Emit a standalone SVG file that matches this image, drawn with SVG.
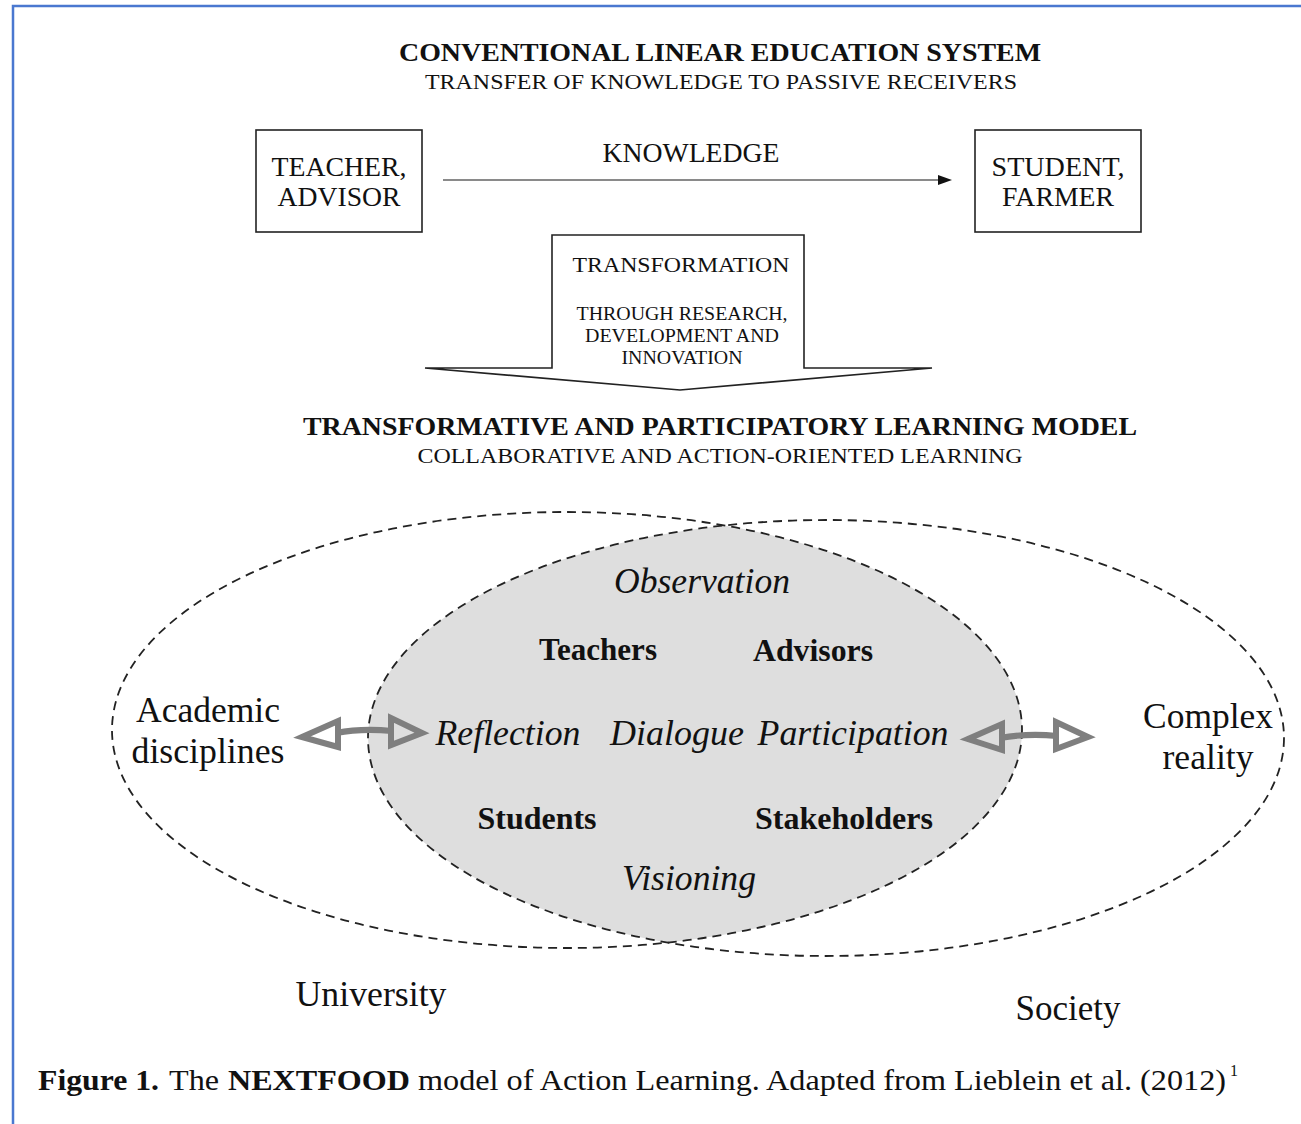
<svg xmlns="http://www.w3.org/2000/svg" width="1301" height="1124" viewBox="0 0 1301 1124">
  <style>
    .serif { font-family: "Liberation Serif", "Times New Roman", serif; fill: #111; }
    .box { fill: #fff; stroke: #222; stroke-width: 1.6; }
    .ell { fill: none; stroke: #222; stroke-width: 1.8; stroke-dasharray: 9 6; }
    .dbl { fill: none; stroke: #7f7f7f; stroke-width: 6; stroke-linejoin: miter; stroke-linecap: butt; }
    .b { font-weight: bold; }
    .i { font-style: italic; }
  </style>
  <defs>
    <marker id="tip" viewBox="0 0 14 10" refX="0" refY="5" markerWidth="14" markerHeight="10" markerUnits="userSpaceOnUse" orient="auto">
      <path d="M0,0 L14,5 L0,10 Z" fill="#111"/>
    </marker>
    <clipPath id="uniClip">
      <ellipse cx="567" cy="730" rx="455" ry="218"/>
    </clipPath>
  </defs>

  <rect width="1301" height="1124" fill="#fff"/>
  <!-- page frame -->
  <path d="M13,1124 L13,6 L1301,6" fill="none" stroke="#4a78d0" stroke-width="2.5"/>

  <!-- headings -->
  <g id="heading-top" class="serif">
    <text x="720" y="61" text-anchor="middle" font-size="26" class="b" textLength="642" lengthAdjust="spacingAndGlyphs">CONVENTIONAL LINEAR EDUCATION SYSTEM</text>
    <text x="721" y="89" text-anchor="middle" font-size="22" textLength="592" lengthAdjust="spacingAndGlyphs">TRANSFER OF KNOWLEDGE TO PASSIVE RECEIVERS</text>
  </g>

  <g id="teacher" class="serif">
    <rect class="box" x="256" y="130" width="166" height="102"/>
    <text x="339" y="176" text-anchor="middle" font-size="28" textLength="135" lengthAdjust="spacingAndGlyphs">TEACHER,</text>
    <text x="339" y="206" text-anchor="middle" font-size="28" textLength="123" lengthAdjust="spacingAndGlyphs">ADVISOR</text>
  </g>

  <g id="student" class="serif">
    <rect class="box" x="975" y="130" width="166" height="102"/>
    <text x="1058" y="176" text-anchor="middle" font-size="28" textLength="133" lengthAdjust="spacingAndGlyphs">STUDENT,</text>
    <text x="1058" y="206" text-anchor="middle" font-size="28" textLength="112" lengthAdjust="spacingAndGlyphs">FARMER</text>
  </g>

  <g id="transformation" class="serif">
    <path class="box" d="M552,235 L804,235 L804,368 L932,368 L680,390 L425,368 L552,368 Z"/>
    <text x="681" y="272" text-anchor="middle" font-size="21" textLength="217" lengthAdjust="spacingAndGlyphs">TRANSFORMATION</text>
    <text x="682" y="320" text-anchor="middle" font-size="18" textLength="211" lengthAdjust="spacingAndGlyphs">THROUGH RESEARCH,</text>
    <text x="682" y="342" text-anchor="middle" font-size="18" textLength="194" lengthAdjust="spacingAndGlyphs">DEVELOPMENT AND</text>
    <text x="682" y="364" text-anchor="middle" font-size="18" textLength="121" lengthAdjust="spacingAndGlyphs">INNOVATION</text>
  </g>

  <g id="heading-model" class="serif">
    <text x="720" y="435" text-anchor="middle" font-size="26" class="b" textLength="834" lengthAdjust="spacingAndGlyphs">TRANSFORMATIVE AND PARTICIPATORY LEARNING MODEL</text>
    <text x="720" y="463" text-anchor="middle" font-size="22" textLength="605" lengthAdjust="spacingAndGlyphs">COLLABORATIVE AND ACTION-ORIENTED LEARNING</text>
  </g>

  <!-- shared ground of university and society -->
  <g id="overlap">
    <ellipse cx="826" cy="738" rx="458" ry="218" fill="#dedede" clip-path="url(#uniClip)"/>
  </g>

  <g id="university">
    <ellipse class="ell" cx="567" cy="730" rx="455" ry="218"/>
    <text class="serif" x="371" y="1006" text-anchor="middle" font-size="35" textLength="151" lengthAdjust="spacingAndGlyphs">University</text>
  </g>

  <g id="society">
    <ellipse class="ell" cx="826" cy="738" rx="458" ry="218"/>
    <text class="serif" x="1068" y="1020" text-anchor="middle" font-size="35" textLength="105" lengthAdjust="spacingAndGlyphs">Society</text>
  </g>

  <g id="academic" class="serif">
    <text x="208" y="722" text-anchor="middle" font-size="35" textLength="144" lengthAdjust="spacingAndGlyphs">Academic</text>
    <text x="208" y="763" text-anchor="middle" font-size="35" textLength="153" lengthAdjust="spacingAndGlyphs">disciplines</text>
  </g>

  <g id="complex" class="serif">
    <text x="1208" y="728" text-anchor="middle" font-size="35" textLength="130" lengthAdjust="spacingAndGlyphs">Complex</text>
    <text x="1208" y="769" text-anchor="middle" font-size="35" textLength="91" lengthAdjust="spacingAndGlyphs">reality</text>
  </g>

  <g id="learning-terms" class="serif">
    <text x="702" y="593" text-anchor="middle" font-size="35" class="i" textLength="176" lengthAdjust="spacingAndGlyphs">Observation</text>
    <text x="598" y="660" text-anchor="middle" font-size="31" class="b" textLength="118" lengthAdjust="spacingAndGlyphs">Teachers</text>
    <text x="813" y="661" text-anchor="middle" font-size="31" class="b" textLength="120" lengthAdjust="spacingAndGlyphs">Advisors</text>
    <text x="508" y="745" text-anchor="middle" font-size="35" class="i" textLength="145" lengthAdjust="spacingAndGlyphs">Reflection</text>
    <text x="677" y="745" text-anchor="middle" font-size="35" class="i" textLength="134" lengthAdjust="spacingAndGlyphs">Dialogue</text>
    <text x="853" y="745" text-anchor="middle" font-size="35" class="i" textLength="191" lengthAdjust="spacingAndGlyphs">Participation</text>
    <text x="537" y="829" text-anchor="middle" font-size="31" class="b" textLength="119" lengthAdjust="spacingAndGlyphs">Students</text>
    <text x="844" y="829" text-anchor="middle" font-size="31" class="b" textLength="178" lengthAdjust="spacingAndGlyphs">Stakeholders</text>
    <text x="689" y="890" text-anchor="middle" font-size="35" class="i" textLength="134" lengthAdjust="spacingAndGlyphs">Visioning</text>
  </g>

  <!-- connectors -->
  <g id="connectors">
    <line x1="443" y1="180" x2="938" y2="180" stroke="#8a8a8a" stroke-width="2" marker-end="url(#tip)"/>
    <text class="serif" x="691" y="162" text-anchor="middle" font-size="27" textLength="177" lengthAdjust="spacingAndGlyphs">KNOWLEDGE</text>

    <!-- academic disciplines <-> reflection -->
    <path class="dbl" d="M336,733 Q362,728 392,731"/>
    <path class="dbl" d="M302,737 L338,721 L338,747 Z"/>
    <path class="dbl" d="M422,733 L391,718 L391,745 Z"/>

    <!-- participation <-> complex reality -->
    <path class="dbl" d="M1000,738 Q1028,733 1057,736"/>
    <path class="dbl" d="M968,739 L1002,724 L1002,750 Z"/>
    <path class="dbl" d="M1088,737 L1056,722 L1056,749 Z"/>
  </g>

  <g id="caption" class="serif" font-size="30">
    <text x="38" y="1090" class="b" textLength="121" lengthAdjust="spacingAndGlyphs">Figure 1.</text>
    <text x="169" y="1090" textLength="50" lengthAdjust="spacingAndGlyphs">The</text>
    <text x="228" y="1090" class="b" textLength="182" lengthAdjust="spacingAndGlyphs">NEXTFOOD</text>
    <text x="418" y="1090" textLength="808" lengthAdjust="spacingAndGlyphs">model of Action Learning. Adapted from Lieblein et al. (2012)</text>
    <text x="1230" y="1076" font-size="16">1</text>
  </g>
</svg>
